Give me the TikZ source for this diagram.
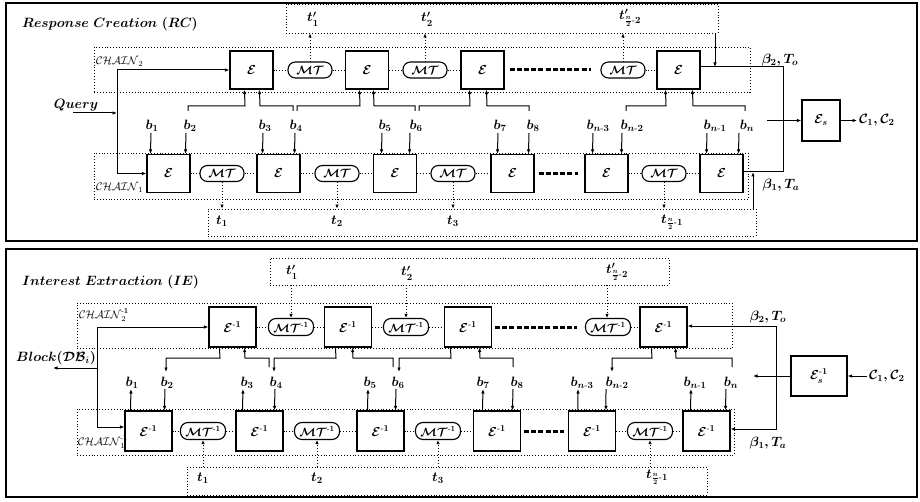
\RequirePackage{fix-cm}
\documentclass[tikz,border=0pt]{standalone}
\usepackage{amsmath,amssymb}
\DeclareFontShape{OML}{cmm}{b}{it}{<->cmmib10}{}
\DeclareFontShape{OMS}{cmsy}{b}{n}{<->cmbsy10}{}
\DeclareFontShape{OT1}{cmr}{bx}{n}{<->cmbx10}{}
\DeclareFontShape{OML}{cmm}{m}{it}{<->cmmi10}{}
\DeclareFontShape{OMS}{cmsy}{m}{n}{<->cmsy10}{}
\usetikzlibrary{arrows.meta}
\begin{document}
\begin{tikzpicture}[x=1pt,y=-1pt, font=\fontsize{13.5}{15}\selectfont\boldmath,
 ebox/.style={draw, line width=1.1pt, minimum width=43pt, minimum height=38pt, inner sep=0pt, font=\fontsize{13}{15}\selectfont\boldmath},
 ibox/.style={ebox, minimum width=47pt, minimum height=40pt},
 mtnode/.style={draw, line width=1.1pt, rounded corners=7.5pt, minimum width=44pt, minimum height=16pt, inner sep=0pt, font=\fontsize{12}{14}\selectfont\boldmath},
 dotbox/.style={draw, line width=0.9pt, dash pattern=on 0.9pt off 2pt, inner sep=0pt},
 dotl/.style={line width=0.9pt, dash pattern=on 0.9pt off 2pt},
 con/.style={line width=1pt},
 arr/.style={con, -{Latex[length=4.5pt,width=3.5pt]}},
 darr/.style={dotl, -{Latex[length=4pt,width=3.5pt]}},
 bigdash/.style={line width=3pt, dash pattern=on 5pt off 2.2pt},
 lbl/.style={inner sep=0pt},
 ttl/.style={inner sep=0pt, anchor=west},
 chl/.style={inner sep=0pt, anchor=west, font=\fontsize{11}{13}\selectfont},
 frame/.style={line width=1.4pt}
]
\useasboundingbox (0,0) rectangle (920,502);
\draw[frame] (6,3) rectangle (917,241);
\draw[frame] (6,249) rectangle (917,497);

%% ================= RC =================
\node[ttl] (ttlA) at (22,24) {$Response\ Creation\ (RC)$};
\node[dotbox, minimum width=432pt, minimum height=29pt] (tpA) at (502,18.5) {};
\node[dotbox, minimum width=656pt, minimum height=45pt] (cA) at (422,69.5) {};
\node[dotbox, minimum width=654pt, minimum height=46pt] (cB) at (421,176) {};
\node[dotbox, minimum width=548pt, minimum height=27pt] (tA) at (482,222.5) {};
\node[chl] (chA) at (96,62) {$\mathcal{CHAIN}_2$};
\node[chl] (chB) at (96,188) {$\mathcal{CHAIN}_1$};

% top row
\node[ebox] (At1) at (251.5,70) {$\mathcal{E}$};
\node[ebox] (At2) at (367,70) {$\mathcal{E}$};
\node[ebox] (At3) at (482.5,70) {$\mathcal{E}$};
\node[ebox] (At4) at (678.5,70) {$\mathcal{E}$};
\node[mtnode] (Am1) at (310,70) {$\mathcal{MT}$};
\node[mtnode] (Am2) at (425,70) {$\mathcal{MT}$};
\node[mtnode] (Am3) at (623,70) {$\mathcal{MT}$};
\draw[dotl] (At1) -- (Am1) -- (At2) -- (Am2) -- (At3);
\draw[dotl] (Am3) -- (At4);
\draw[bigdash] ([xshift=5pt]At3.east) -- ([xshift=-9pt]Am3.west);
\draw[darr] (Am1.north) -- (Am1.north |- tpA.south);
\draw[darr] (Am2.north) -- (Am2.north |- tpA.south);
\draw[darr] (Am3.north) -- (Am3.north |- tpA.south);
\node[lbl] (tp1) at (313,19) {$t_1^{\prime}$};
\node[lbl] (tp2) at (427,19) {$t_2^{\prime}$};
\node[lbl] (tp3) at (630,18) {$t_{\frac{n}{2}\text{-}2}^{\prime}$};

% bottom row
\node[ebox] (Ab1) at (168.5,173.5) {$\mathcal{E}$};
\node[ebox] (Ab2) at (278.5,173.5) {$\mathcal{E}$};
\node[ebox] (Ab3) at (395,173.5) {$\mathcal{E}$};
\node[ebox] (Ab4) at (512.5,173.5) {$\mathcal{E}$};
\node[ebox] (Ab5) at (606.5,173.5) {$\mathcal{E}$};
\node[ebox] (Ab6) at (721.5,173.5) {$\mathcal{E}$};
\node[mtnode] (Bm1) at (222,173.5) {$\mathcal{MT}$};
\node[mtnode] (Bm2) at (337,173.5) {$\mathcal{MT}$};
\node[mtnode] (Bm3) at (453,173.5) {$\mathcal{MT}$};
\node[mtnode] (Bm4) at (664,173.5) {$\mathcal{MT}$};
\draw[dotl] (Ab1) -- (Bm1) -- (Ab2) -- (Bm2) -- (Ab3) -- (Bm3) -- (Ab4);
\draw[dotl] (Ab5) -- (Bm4) -- (Ab6);
\draw[bigdash] ([xshift=4pt]Ab4.east) -- ([xshift=-6pt]Ab5.west);
\draw[darr] (Bm1.south) -- (Bm1.south |- tA.north);
\draw[darr] (Bm2.south) -- (Bm2.south |- tA.north);
\draw[darr] (Bm3.south) -- (Bm3.south |- tA.north);
\draw[darr] (Bm4.south) -- (Bm4.south |- tA.north);
\node[lbl] (t1) at (222,221) {$t_1$};
\node[lbl] (t2) at (337,221) {$t_2$};
\node[lbl] (t3) at (453,221) {$t_3$};
\node[lbl] (t4) at (672,222) {$t_{\frac{n}{2}\text{-}1}$};

% b labels
\foreach \x/\s [count=\i] in {152/1,190/2,265/3,296/4,385/5,416/6,500/7,533/8,598/{n\text{-}3},632/{n\text{-}2},715/{n\text{-}1},747/n}
  \node[lbl] (ba\i) at (\x,126) {$b_{\s}$};

% b -> bottom E
\draw[arr] (151,133) -- ([xshift=4pt]Ab1.north west);
\draw[arr] (186,133) -- ([xshift=39pt]Ab1.north west);
\draw[arr] (263,133) -- ([xshift=6pt]Ab2.north west);
\draw[arr] (295,133) -- ([xshift=38pt]Ab2.north west);
\draw[arr] (382,133) -- ([xshift=8.5pt]Ab3.north west);
\draw[arr] (410,133) -- ([xshift=36.5pt]Ab3.north west);
\draw[arr] (498,133) -- ([xshift=7pt]Ab4.north west);
\draw[arr] (529,133) -- ([xshift=38pt]Ab4.north west);
\draw[arr] (593,133) -- ([xshift=8pt]Ab5.north west);
\draw[arr] (622,133) -- ([xshift=37pt]Ab5.north west);
\draw[arr] (707,133) -- ([xshift=7pt]Ab6.north west);
\draw[arr] (739,133) -- ([xshift=39pt]Ab6.north west);

% b -> top E
\draw[arr] (188,111) -- (188,106) -- (245,106) -- ([xshift=15pt]At1.south west);
\draw[arr] (293,111) -- (293,106) -- (260,106) -- ([xshift=30pt]At1.south west);
\draw[arr] (297,111) -- (297,106) -- (360,106) -- ([xshift=14.5pt]At2.south west);
\draw[arr] (415,111) -- (415,106) -- (374,106) -- ([xshift=28.5pt]At2.south west);
\draw[arr] (419,111) -- (419,106) -- (470,106) -- ([xshift=9pt]At3.south west);
\draw[arr] (529,111) -- (529,106) -- (487,106) -- ([xshift=26pt]At3.south west);
\draw[arr] (626,111) -- (626,106) -- (666,106) -- ([xshift=9pt]At4.south west);
\draw[arr] (745,111) -- (745,106) -- (693,106) -- ([xshift=36pt]At4.south west);

% query
\node[lbl] (qry) at (76,105) {$Query$};
\coordinate (qtop) at (117,70);
\coordinate (qbot) at (117,173.5);
\coordinate (qin) at (73,113);
\draw[arr] (qbot) -- (qtop) -- (At1.west);
\draw[arr] (qtop) -- (qbot) -- (Ab1.west);
\draw[arr] (qin) -- (qin -| qtop);

% right side RC
\node[ebox, minimum width=38pt, minimum height=41pt] (Es) at (821,120.5) {$\mathcal{E}_{s}$};
\coordinate (j2) at (783,67);
\coordinate (j1) at (783,172);
\draw[con] ([yshift=3pt]At4.east) -- (j2) -- (j1) -- ([yshift=1.5pt]Ab6.east);
\draw[arr] (715,33) -- (715,67);
\draw[arr] (753,209) -- (753,172);
\coordinate (esin) at (767,120.5);
\draw[arr] (esin) -- (Es.west);
\coordinate (esout) at (857,120.5);
\draw[arr] (Es.east) -- (esout);
\node[lbl, anchor=west] (cc1) at (859,120.5) {$\mathcal{C}_1,\mathcal{C}_2$};
\node[lbl] (beta2) at (780,60) {$\beta_2,T_o$};
\node[lbl] (beta1) at (781,185) {$\beta_1,T_a$};

%% ================= IE =================
\node[ttl] (ttlB) at (22,282) {$Interest\ Extraction\ (IE)$};
\node[dotbox, minimum width=399pt, minimum height=27pt] (tpB) at (469.5,271.5) {};
\node[dotbox, minimum width=655pt, minimum height=45pt] (cC) at (404.5,325.5) {};
\node[dotbox, minimum width=657pt, minimum height=46pt] (cD) at (405.5,432) {};
\node[dotbox, minimum width=520pt, minimum height=28pt] (tB) at (447,481) {};
\node[chl] (chC) at (79,315) {$\mathcal{CHAIN}_2^{\boldsymbol{\text{-}1}}$};
\node[chl] (chD) at (78,442) {$\mathcal{CHAIN}_1^{\boldsymbol{\text{-}1}}$};

\node[ibox] (Ct1) at (232.5,327) {$\mathcal{E}^{\text{-}1}$};
\node[ibox] (Ct2) at (348,327) {$\mathcal{E}^{\text{-}1}$};
\node[ibox] (Ct3) at (468,327) {$\mathcal{E}^{\text{-}1}$};
\node[ibox] (Ct4) at (663.5,327) {$\mathcal{E}^{\text{-}1}$};
\node[mtnode, minimum width=45pt, minimum height=17pt] (Cm1) at (291,327) {$\mathcal{MT}^{\text{-}1}$};
\node[mtnode, minimum width=45pt, minimum height=17pt] (Cm2) at (406,327) {$\mathcal{MT}^{\text{-}1}$};
\node[mtnode, minimum width=45pt, minimum height=17pt] (Cm3) at (608,327) {$\mathcal{MT}^{\text{-}1}$};
\draw[dotl] (Ct1) -- (Cm1) -- (Ct2) -- (Cm2) -- (Ct3);
\draw[dotl] (Cm3) -- (Ct4);
\draw[bigdash] ([xshift=3pt]Ct3.east) -- ([xshift=-8pt]Cm3.west);
\draw[darr] (Cm1.north |- tpB.south) -- (Cm1.north);
\draw[darr] (Cm2.north |- tpB.south) -- (Cm2.north);
\draw[darr] ([xshift=-1pt]Cm3.north |- tpB.south) -- ([xshift=-1pt]Cm3.north);
\node[lbl] (tq1) at (292,272) {$t_1^{\prime}$};
\node[lbl] (tq2) at (407,273) {$t_2^{\prime}$};
\node[lbl] (tq3) at (617,272) {$t_{\frac{n}{2}\text{-}2}^{\prime}$};

\node[ibox] (Cb1) at (148.5,431) {$\mathcal{E}^{\text{-}1}$};
\node[ibox] (Cb2) at (259.5,431) {$\mathcal{E}^{\text{-}1}$};
\node[ibox] (Cb3) at (380.5,431) {$\mathcal{E}^{\text{-}1}$};
\node[ibox] (Cb4) at (497,431) {$\mathcal{E}^{\text{-}1}$};
\node[ibox] (Cb5) at (592,431) {$\mathcal{E}^{\text{-}1}$};
\node[ibox] (Cb6) at (706.5,431) {$\mathcal{E}^{\text{-}1}$};
\node[mtnode, minimum width=45pt, minimum height=17pt] (Dm1) at (203,431) {$\mathcal{MT}^{\text{-}1}$};
\node[mtnode, minimum width=45pt, minimum height=17pt] (Dm2) at (317,431) {$\mathcal{MT}^{\text{-}1}$};
\node[mtnode, minimum width=45pt, minimum height=17pt] (Dm3) at (438,431) {$\mathcal{MT}^{\text{-}1}$};
\node[mtnode, minimum width=45pt, minimum height=17pt] (Dm4) at (650,431) {$\mathcal{MT}^{\text{-}1}$};
\draw[dotl] (Cb1) -- (Dm1) -- (Cb2) -- (Dm2) -- (Cb3) -- (Dm3) -- (Cb4);
\draw[dotl] (Cb5) -- (Dm4) -- (Cb6);
\draw[bigdash] ([xshift=3pt]Cb4.east) -- ([xshift=-4pt]Cb5.west);
\draw[darr] (Dm1.south |- tB.north) -- (Dm1.south);
\draw[darr] (Dm2.south |- tB.north) -- (Dm2.south);
\draw[darr] (Dm3.south |- tB.north) -- (Dm3.south);
\draw[darr] (Dm4.south |- tB.north) -- (Dm4.south);
\node[lbl] (u1) at (203,478) {$t_1$};
\node[lbl] (u2) at (317,478) {$t_2$};
\node[lbl] (u3) at (438,478) {$t_3$};
\node[lbl] (u4) at (657,477) {$t_{\frac{n}{2}\text{-}1}$};

\foreach \x/\s [count=\i] in {132/1,167/2,247/3,276/4,370/5,398/6,483/7,517/8,582/{n\text{-}3},617/{n\text{-}2},695/{n\text{-}1},731/n}
  \node[lbl] (bb\i) at (\x,383) {$b_{\s}$};

% bottom E <-> b
\draw[arr] ([xshift=6pt]Cb1.north west) -- (131,389);
\draw[arr] (165,389) -- ([xshift=40pt]Cb1.north west);
\draw[arr] ([xshift=7pt]Cb2.north west) -- (243,389);
\draw[arr] (275,389) -- ([xshift=39pt]Cb2.north west);
\draw[arr] ([xshift=11pt]Cb3.north west) -- (368,389);
\draw[arr] (396,389) -- ([xshift=39pt]Cb3.north west);
\draw[arr] ([xshift=9.5pt]Cb4.north west) -- (483,389);
\draw[arr] (513,389) -- ([xshift=39.5pt]Cb4.north west);
\draw[arr] ([xshift=10pt]Cb5.north west) -- (578,389);
\draw[arr] (606,389) -- ([xshift=38pt]Cb5.north west);
\draw[arr] ([xshift=8pt]Cb6.north west) -- (691,389);
\draw[arr] (726,389) -- ([xshift=43pt]Cb6.north west);

% top E <-> b
\draw[arr] ([xshift=11pt]Ct1.south west) -- (220,358) -- (166,358) -- (166,372);
\draw[arr] (269,367) -- (269,358) -- (245,358) -- ([xshift=36pt]Ct1.south west);
\draw[arr] ([xshift=11.5pt]Ct2.south west) -- (336,358) -- (274,358) -- (274,372);
\draw[arr] (393,367) -- (393,358) -- (353,358) -- ([xshift=28.5pt]Ct2.south west);
\draw[arr] ([xshift=6.5pt]Ct3.south west) -- (451,358) -- (399,358) -- (399,372);
\draw[arr] (513,367) -- (513,358) -- (480,358) -- ([xshift=35.5pt]Ct3.south west);
\draw[arr] ([xshift=12pt]Ct4.south west) -- (652,358) -- (612,358) -- (612,372);
\draw[arr] (732,367) -- (732,358) -- (676,358) -- ([xshift=36pt]Ct4.south west);

% left IE
\node[lbl] (blk) at (56,358) {$Block(\mathcal{DB}_{i})$};
\coordinate (ltop) at (97,327);
\coordinate (lbot) at (97,427);
\coordinate (lout) at (53,368);
\draw[arr] (lbot) -- (ltop) -- (Ct1.west);
\draw[arr] (ltop) -- (lbot) -- ([yshift=4pt]Cb1.west);
\draw[arr] (lout -| ltop) -- (lout);

% right IE
\node[ebox, minimum width=56pt, minimum height=40pt] (Esi) at (819,376) {$\mathcal{E}_{s}^{\text{-}1}$};
\coordinate (k2) at (776,326);
\coordinate (k1) at (776,429);
\draw[arr] (k1) -- (k2) -- ([yshift=1pt]Ct4.east);
\draw[arr] (k2) -- (k1) -- ([yshift=2pt]Cb6.east);
\coordinate (cin) at (867,376);
\draw[arr] (cin) -- (Esi.east);
\coordinate (eout) at (753,376);
\draw[arr] (Esi.west) -- (eout);
\node[lbl, anchor=west] (cc2) at (869,376) {$\mathcal{C}_1,\mathcal{C}_2$};
\node[lbl] (beta2b) at (768,317) {$\beta_2,T_o$};
\node[lbl] (beta1b) at (768,443) {$\beta_1,T_a$};
\end{tikzpicture}
\end{document}
